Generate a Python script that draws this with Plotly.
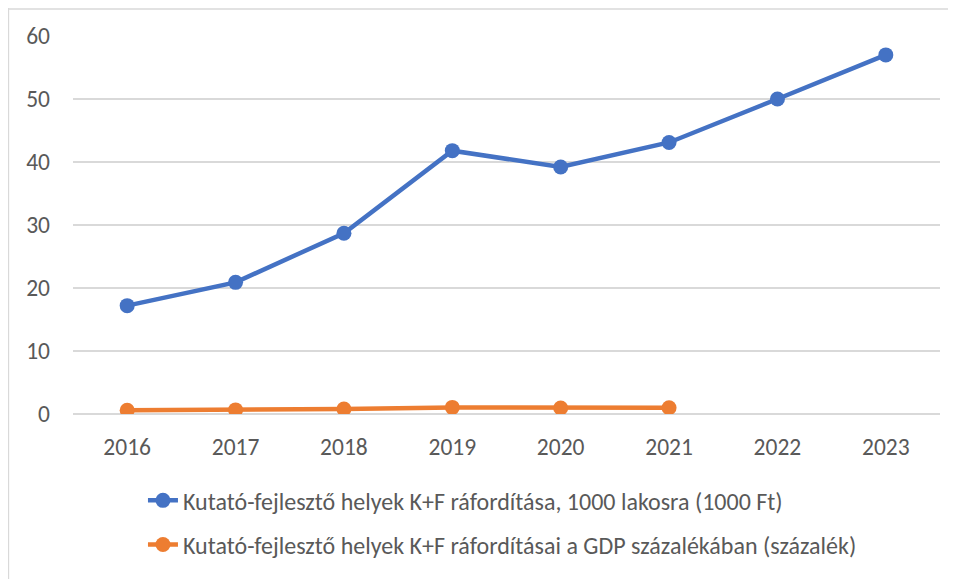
import plotly.graph_objects as go

years = ["2016", "2017", "2018", "2019", "2020", "2021", "2022", "2023"]
per_1000 = [17.2, 20.9, 28.7, 41.8, 39.2, 43.1, 50.0, 57.0]
gdp_pct_years = ["2016", "2017", "2018", "2019", "2020", "2021"]
gdp_pct = [0.6, 0.65, 0.8, 1.05, 0.95, 1.0]

name1 = "Kutató-fejlesztő helyek K+F ráfordítása, 1000 lakosra (1000 Ft)"
name2 = "Kutató-fejlesztő helyek K+F ráfordításai a GDP százalékában (százalék)"

FONT = "Carlito, Calibri, 'Liberation Sans', Arial, sans-serif"
GRAY = "#595959"
FS = 23.5

fig = go.Figure()
fig.add_trace(go.Scatter(
    x=years, y=per_1000, mode="lines+markers", name=name1,
    line=dict(color="#4472C4", width=4.5),
    marker=dict(color="#4472C4", size=15),
    legendgroup="a",
))
fig.add_trace(go.Scatter(
    x=gdp_pct_years, y=gdp_pct, mode="lines+markers", name=name2,
    line=dict(color="#ED7D31", width=4.5),
    marker=dict(color="#ED7D31", size=15),
    legendgroup="b",
))

fig.update_layout(
    width=948, height=571,
    margin=dict(l=65, r=16, t=28, b=160),
    paper_bgcolor="white", plot_bgcolor="white",
    font=dict(family=FONT, size=FS, color=GRAY),
    xaxis=dict(
        type="category", categoryorder="array", categoryarray=years,
        range=[-0.5, 7.5], showgrid=False, showline=False, zeroline=False,
        ticks="", tickfont=dict(size=FS, color=GRAY), ticklabelstandoff=16,
    ),
    yaxis=dict(
        range=[0, 60], dtick=10, showgrid=True, gridcolor="#D9D9D9", gridwidth=1.5,
        zeroline=True, zerolinecolor="#D9D9D9", zerolinewidth=1.5,
        showline=False, ticks="", tickfont=dict(size=FS, color=GRAY),
        ticklabelstandoff=22,
    ),
    showlegend=True,
    legend=dict(
        orientation="v", x=0.0807, xanchor="left", y=-0.17, yanchor="top",
        font=dict(size=24, color=GRAY), traceorder="grouped", tracegroupgap=10,
        bgcolor="rgba(0,0,0,0)",
    ),
    shapes=[
        dict(type="line", xref="paper", yref="paper", x0=-0.0745, x1=-0.0745,
             y0=1.08, y1=-0.45, line=dict(color="#D9D9D9", width=1.5)),
        dict(type="line", xref="paper", yref="paper", x0=-0.0745, x1=1.05,
             y0=1.0712, y1=1.0712, line=dict(color="#D9D9D9", width=1.5)),
    ],
)

fig.write_html("out.html")
